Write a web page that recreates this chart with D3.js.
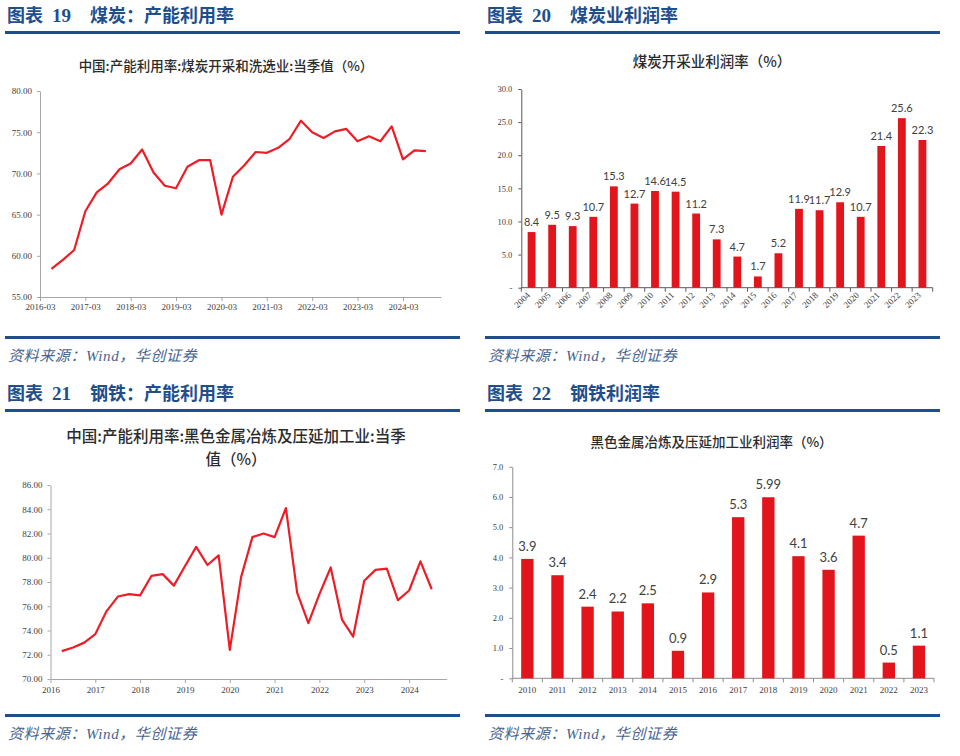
<!DOCTYPE html>
<html><head><meta charset="utf-8">
<script src="https://cdn.jsdelivr.net/npm/d3@7"></script>
<style>body{margin:0;background:#fff} svg{display:block;background:#fff}</style>
</head><body><svg id="c" width="960" height="756"></svg>
<script>
// ---------- DATA ----------
const utilDates = ["2016-06","2016-09","2016-12","2017-03","2017-06","2017-09","2017-12","2018-03","2018-06","2018-09","2018-12","2019-03","2019-06","2019-09","2019-12","2020-03","2020-06","2020-09","2020-12","2021-03","2021-06","2021-09","2021-12","2022-03","2022-06","2022-09","2022-12","2023-03","2023-06","2023-09","2023-12","2024-03","2024-06","2024-09"];
const coalUtil = [58.4,59.5,60.7,65.4,67.7,68.8,70.5,71.2,72.9,70.1,68.5,68.2,70.8,71.6,71.6,65.0,69.6,71.0,72.6,72.5,73.1,74.2,76.4,75.0,74.3,75.1,75.4,73.9,74.5,73.9,75.7,71.7,72.8,72.7];
const steelUtil = [72.3,72.6,73.0,73.7,75.6,76.8,77.0,76.9,78.5,78.65,77.7,79.3,80.9,79.4,80.2,72.4,78.4,81.7,82.0,81.7,84.1,77.1,74.6,77.0,79.2,74.9,73.5,78.1,79.0,79.1,76.5,77.3,79.7,77.4];
const utilTickYears = [2016,2017,2018,2019,2020,2021,2022,2023,2024];
const coalUtilTicks = [55,60,65,70,75,80];
const steelUtilTicks = [70,72,74,76,78,80,82,84,86];

const coalYears = ["2004","2005","2006","2007","2008","2009","2010","2011","2012","2013","2014","2015","2016","2017","2018","2019","2020","2021","2022","2023"];
const coalProfit = [8.4,9.5,9.3,10.7,15.3,12.7,14.6,14.5,11.2,7.3,4.7,1.7,5.2,11.9,11.7,12.9,10.7,21.4,25.6,22.3];
const coalProfitTicks = [0,5,10,15,20,25,30];

const steelYears = ["2010","2011","2012","2013","2014","2015","2016","2017","2018","2019","2020","2021","2022","2023"];
const steelProfit = [3.95,3.41,2.37,2.21,2.48,0.91,2.84,5.33,5.99,4.04,3.59,4.72,0.52,1.08];
const steelProfitLabels = ["3.9","3.4","2.4","2.2","2.5","0.9","2.9","5.3","5.99","4.1","3.6","4.7","0.5","1.1"];
const steelProfitTicks = [0,1,2,3,4,5,6,7];

const headers = [
  {num:"19", title:"煤炭：产能利用率"},
  {num:"20", title:"煤炭业利润率"},
  {num:"21", title:"钢铁：产能利用率"},
  {num:"22", title:"钢铁利润率"}
];
const sourceText = "资料来源：Wind，华创证券";

// ---------- STYLE ----------
const svg = d3.select("#c");
const BLUE = "#1F4E8C";
const RED_LINE = "#EE1C25";
const RED_BAR = "#E3151C";
const CJK = "'Noto Sans CJK SC','Noto Sans',sans-serif";
const SERIF = "'Liberation Serif','DejaVu Serif',serif";
const LABEL = "Lato,'Open Sans',sans-serif";
const parse = d3.timeParse("%Y-%m");

function frame(x0, yTop, yBottom, h) {
  const t = svg.append("text").attr("x", x0 + 2).attr("y", yTop - 9)
    .attr("fill", BLUE).attr("font-size", 18).attr("font-weight", "bold").attr("font-family", CJK);
  t.append("tspan").text("图表");
  t.append("tspan").attr("x", x0 + 47).attr("font-family", SERIF).attr("font-size", 19).text(h.num);
  t.append("tspan").attr("x", x0 + 85).text(h.title);
  svg.append("rect").attr("x", x0).attr("y", yTop).attr("width", 455).attr("height", 3).attr("fill", BLUE);
  svg.append("rect").attr("x", x0).attr("y", yBottom).attr("width", 455).attr("height", 3).attr("fill", BLUE);
  svg.append("text").attr("x", x0 + 3).attr("y", yBottom + 25)
    .attr("fill", "#46648F").attr("font-size", 15).attr("letter-spacing", 0.6).attr("font-style", "italic")
    .attr("font-family", "'Liberation Serif'," + CJK).text(sourceText);
}
frame(5, 31, 336, headers[0]);
frame(485, 31, 336, headers[1]);
frame(5, 409, 714, headers[2]);
frame(485, 409, 714, headers[3]);

function title(lines, cx, y0, size, lh) {
  lines.forEach((s, i) => svg.append("text").attr("x", cx).attr("y", y0 + i * lh)
    .attr("text-anchor", "middle").attr("font-size", size).attr("font-family", CJK)
    .attr("fill", "#2b2b2b").attr("font-weight", 500).text(s));
}
function styleAxis(g, col, txt, fs) {
  g.select(".domain").attr("stroke", col);
  g.selectAll(".tick line").attr("stroke", col);
  g.selectAll(".tick text").attr("fill", txt).attr("font-size", fs).attr("font-family", SERIF);
}

// ---------- PANEL 1: coal utilisation ----------
title(["中国:产能利用率:煤炭开采和洗选业:当季值（%）"], 226, 71, 13.5, 0);
{
  const x = d3.scaleTime().domain([new Date(2016,2,1), new Date(2025,0,1)]).range([40, 441]);
  const y = d3.scaleLinear().domain([55, 80]).range([297, 91]);
  const gy = svg.append("g").attr("transform", "translate(40,0)")
    .call(d3.axisLeft(y).tickValues(coalUtilTicks).tickFormat(d3.format(".2f")).tickSize(3).tickSizeOuter(0).tickPadding(5));
  styleAxis(gy, "#a6a6a6", "#404040", 9);
  const gx = svg.append("g").attr("transform", "translate(0,297)")
    .call(d3.axisBottom(x).tickValues(utilTickYears.map(yr => new Date(yr,2,1))).tickFormat(d3.timeFormat("%Y-%m")).tickSize(4).tickSizeOuter(0).tickPadding(3));
  styleAxis(gx, "#a6a6a6", "#404040", 9);
  svg.append("path").datum(utilDates.map((d, i) => [parse(d), coalUtil[i]]))
    .attr("fill", "none").attr("stroke", RED_LINE).attr("stroke-width", 2.2).attr("stroke-linejoin", "round")
    .attr("d", d3.line().x(d => x(d[0])).y(d => y(d[1])));
}

// ---------- PANEL 3: steel utilisation ----------
title(["中国:产能利用率:黑色金属冶炼及压延加工业:当季", "值（%）"], 236, 442, 15.5, 23);
{
  const x = d3.scaleTime().domain([new Date(2016,2,1), new Date(2025,0,1)]).range([50.5, 446.7]);
  const y = d3.scaleLinear().domain([70, 86]).range([679, 485]);
  const gy = svg.append("g").attr("transform", "translate(50.5,0)")
    .call(d3.axisLeft(y).tickValues(steelUtilTicks).tickFormat(d3.format(".2f")).tickSize(3).tickSizeOuter(0).tickPadding(5));
  styleAxis(gy, "#a6a6a6", "#404040", 9);
  const gx = svg.append("g").attr("transform", "translate(0,679)")
    .call(d3.axisBottom(x).tickValues(utilTickYears.map(yr => new Date(yr,2,1))).tickFormat(d3.timeFormat("%Y")).tickSize(4).tickSizeOuter(0).tickPadding(4));
  styleAxis(gx, "#a6a6a6", "#404040", 9);
  svg.append("path").datum(utilDates.map((d, i) => [parse(d), steelUtil[i]]))
    .attr("fill", "none").attr("stroke", RED_LINE).attr("stroke-width", 2.2).attr("stroke-linejoin", "round")
    .attr("d", d3.line().x(d => x(d[0])).y(d => y(d[1])));
}

// ---------- bar chart helper ----------
function bars(cfg) {
  const x = d3.scaleBand().domain(cfg.cats).range(cfg.xr).paddingInner(cfg.pad).paddingOuter(cfg.pad / 2);
  const y = d3.scaleLinear().domain(cfg.yd).range(cfg.yr);
  const gy = svg.append("g").attr("transform", `translate(${cfg.xr[0]},0)`)
    .call(d3.axisLeft(y).tickValues(cfg.ticks).tickFormat(d => d === 0 ? "-" : d3.format(".1f")(d)).tickSize(3).tickSizeOuter(0).tickPadding(cfg.tp));
  styleAxis(gy, cfg.axisCol, "#404040", cfg.tfs);
  const base = cfg.yr[0];
  svg.append("line").attr("x1", cfg.xr[0]).attr("x2", cfg.xr[1]).attr("y1", base).attr("y2", base).attr("stroke", cfg.axisCol);
  svg.append("g").selectAll("line").data(d3.range(cfg.cats.length + 1)).join("line")
    .attr("x1", i => cfg.xr[0] + i * (cfg.xr[1] - cfg.xr[0]) / cfg.cats.length)
    .attr("x2", i => cfg.xr[0] + i * (cfg.xr[1] - cfg.xr[0]) / cfg.cats.length)
    .attr("y1", base).attr("y2", base + 4).attr("stroke", cfg.axisCol);
  svg.append("g").selectAll("rect").data(cfg.vals).join("rect")
    .attr("x", (d, i) => x(cfg.cats[i])).attr("width", x.bandwidth())
    .attr("y", d => y(d)).attr("height", d => base - y(d)).attr("fill", RED_BAR);
  svg.append("g").selectAll("text").data(cfg.vals).join("text")
    .attr("x", (d, i) => x(cfg.cats[i]) + x.bandwidth() / 2).attr("y", d => y(d) - cfg.lgap)
    .attr("text-anchor", "middle").attr("font-size", cfg.lfs).attr("font-family", LABEL).attr("fill", "#404040")
    .text((d, i) => cfg.labels[i]);
  const xl = svg.append("g").selectAll("text").data(cfg.cats).join("text")
    .attr("font-size", cfg.xfs).attr("font-family", SERIF).attr("fill", "#404040").text(d => d);
  if (cfg.rotate) {
    xl.attr("text-anchor", "end").attr("transform", d => `translate(${x(d) + x.bandwidth() / 2 - 1},${base + 8}) rotate(-45)`);
  } else {
    xl.attr("text-anchor", "middle").attr("x", d => x(d) + x.bandwidth() / 2).attr("y", base + 15);
  }
}

// ---------- PANEL 2: coal profit ----------
title(["煤炭开采业利润率（%）"], 712, 67, 14.5, 0);
bars({cats: coalYears, vals: coalProfit, labels: coalProfit.map(d => d3.format(".1f")(d)),
  xr: [521.3, 932.7], yd: [0, 30], yr: [287.7, 89], ticks: coalProfitTicks, pad: 0.62, tp: 6,
  axisCol: "#595959", tfs: 8.5, lfs: 11, lgap: 6, xfs: 9, rotate: true});

// ---------- PANEL 4: steel profit ----------
title(["黑色金属冶炼及压延加工业利润率（%）"], 711.5, 446.5, 13.5, 0);
bars({cats: steelYears, vals: steelProfit, labels: steelProfitLabels,
  xr: [512.3, 934], yd: [0, 7], yr: [678.3, 466.7], ticks: steelProfitTicks, pad: 0.59, tp: 6,
  axisCol: "#8c8c8c", tfs: 8.5, lfs: 13, lgap: 8, xfs: 9, rotate: false});
</script>
</body></html>
